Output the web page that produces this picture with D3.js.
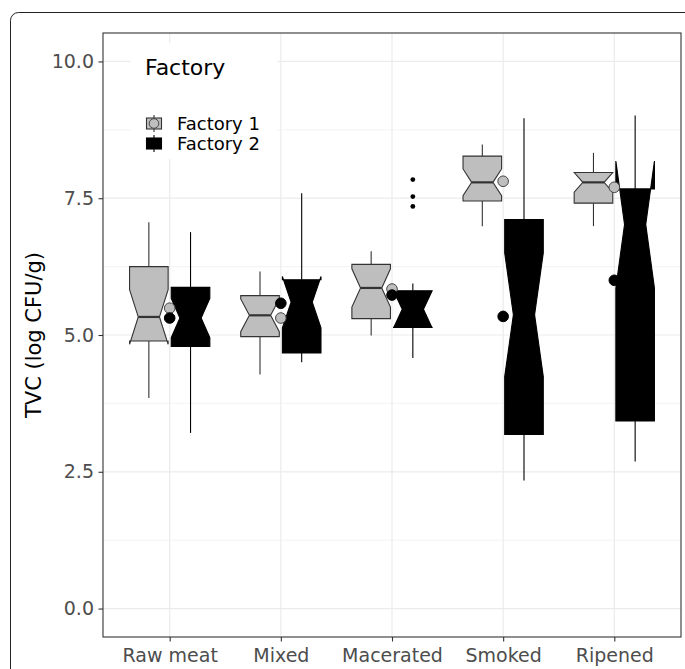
<!DOCTYPE html>
<html>
<head>
<meta charset="utf-8">
<script src="https://cdn.jsdelivr.net/npm/d3@7"></script>
<style>
  body { margin: 0; background: #fff; }
  svg { display: block; font-family: "DejaVu Sans", sans-serif; }
</style>
</head>
<body>
<div id="chart"></div>
<script>
// >-----------------< Data >-------------------<
const stages = ["Raw meat", "Mixed", "Macerated", "Smoked", "Ripened"];
const factories = ["Factory 1", "Factory 2"];
const yTicks = [0, 2.5, 5, 7.5, 10];
const yMinorTicks = [1.25, 3.75, 6.25, 8.75];

// Factory 1 box stats per stage
const f1WhiskerLow  = [3.85, 4.28, 4.99, 6.99, 6.99];
const f1Q1          = [4.89, 4.97, 5.30, 7.45, 7.41];
const f1Median      = [5.33, 5.36, 5.86, 7.79, 7.79];
const f1Q3          = [6.25, 5.72, 6.29, 8.27, 7.97];
const f1WhiskerHigh = [7.06, 6.16, 6.53, 8.48, 8.33];
const f1NotchHalf   = [0.50, 0.30, 0.35, 0.245, 0.18];
const f1Mean        = [5.49, 5.31, 5.84, 7.81, 7.70];
const f1Outliers    = [[], [], [], [], []];

// Factory 2 box stats per stage
const f2WhiskerLow  = [3.21, 4.50, 4.58, 2.34, 2.69];
const f2Q1          = [4.79, 4.67, 5.14, 3.18, 3.43];
const f2Median      = [5.31, 5.60, 5.47, 5.37, 7.02];
const f2Q3          = [5.87, 6.01, 5.81, 7.11, 7.67];
const f2WhiskerHigh = [6.88, 7.59, 5.94, 8.96, 9.01];
const f2NotchHalf   = [0.36, 0.47, 0.34, 1.13, 1.16];
const f2Mean        = [5.31, 5.58, 5.73, 5.34, 6.00];
const f2Outliers    = [[], [], [7.84, 7.53, 7.35], [], []];

// >-----------------< Config >-------------------<
const config = {
  width: 685,
  height: 669,
  panel: { left: 103, right: 681, top: 33, bottom: 637 },
  fill: { "Factory 1": "#bebebe", "Factory 2": "#000000" },
  line: { "Factory 1": "#333333", "Factory 2": "#000000" },
  pointStroke: { "Factory 1": "#444444", "Factory 2": "#000000" }
};

function buildBoxes() {
  const rows = [];
  stages.forEach((stage, i) => {
    rows.push({ stage, factory: "Factory 1", side: -1,
      lo: f1WhiskerLow[i], q1: f1Q1[i], med: f1Median[i], q3: f1Q3[i], hi: f1WhiskerHigh[i],
      notch: f1NotchHalf[i], mean: f1Mean[i], outliers: f1Outliers[i] });
    rows.push({ stage, factory: "Factory 2", side: 1,
      lo: f2WhiskerLow[i], q1: f2Q1[i], med: f2Median[i], q3: f2Q3[i], hi: f2WhiskerHigh[i],
      notch: f2NotchHalf[i], mean: f2Mean[i], outliers: f2Outliers[i] });
  });
  return rows;
}

// >-----------------< Chart >-------------------<
function drawChart() {
  const { width, height, panel } = config;
  const boxes = buildBoxes();

  const svg = d3.select("#chart").append("svg")
    .attr("width", width)
    .attr("height", height);

  // outer rounded frame (runs off the right and bottom edges)
  svg.append("rect")
    .attr("x", 10.5).attr("y", 12.5)
    .attr("width", 700).attr("height", 670)
    .attr("rx", 8)
    .attr("fill", "none")
    .attr("stroke", "#222")
    .attr("stroke-width", 1);

  const x = d3.scalePoint()
    .domain(stages)
    .range([panel.left, panel.right])
    .padding(0.6);

  const y = d3.scaleLinear()
    .domain([-0.52, 10.52])
    .range([panel.bottom, panel.top]);

  const step = x.step();
  const boxW = 0.347 * step;
  const dodge = 0.1875 * step;
  const notchW = 0.55;

  // grid
  const grid = svg.append("g");
  grid.selectAll(".minor").data(yMinorTicks).enter().append("line")
    .attr("x1", panel.left).attr("x2", panel.right)
    .attr("y1", d => y(d)).attr("y2", d => y(d))
    .attr("stroke", "#ebebeb").attr("stroke-width", 0.6);
  grid.selectAll(".major").data(yTicks).enter().append("line")
    .attr("x1", panel.left).attr("x2", panel.right)
    .attr("y1", d => y(d)).attr("y2", d => y(d))
    .attr("stroke", "#ebebeb").attr("stroke-width", 1.2);
  grid.selectAll(".vmajor").data(stages).enter().append("line")
    .attr("x1", d => x(d)).attr("x2", d => x(d))
    .attr("y1", panel.top).attr("y2", panel.bottom)
    .attr("stroke", "#ebebeb").attr("stroke-width", 1.2);

  // boxes
  const g = svg.append("g");
  boxes.forEach(b => {
    const cx = x(b.stage) + b.side * dodge;
    g.append("line")
      .attr("x1", cx).attr("x2", cx)
      .attr("y1", y(b.q3)).attr("y2", y(b.hi))
      .attr("stroke", config.line[b.factory]).attr("stroke-width", 1.1);
    g.append("line")
      .attr("x1", cx).attr("x2", cx)
      .attr("y1", y(b.q1)).attr("y2", y(b.lo))
      .attr("stroke", config.line[b.factory]).attr("stroke-width", 1.1);

    // notched box polygon (ggplot style)
    const xmin = cx - boxW / 2, xmax = cx + boxW / 2;
    const nxmin = cx - boxW * notchW / 2, nxmax = cx + boxW * notchW / 2;
    const nu = b.med + b.notch, nl = b.med - b.notch;
    const pts = [
      [xmin, y(b.q3)], [xmin, y(nu)], [nxmin, y(b.med)], [xmin, y(nl)], [xmin, y(b.q1)],
      [xmax, y(b.q1)], [xmax, y(nl)], [nxmax, y(b.med)], [xmax, y(nu)], [xmax, y(b.q3)]
    ];
    g.append("path")
      .attr("d", d3.line()(pts) + "Z")
      .attr("fill", config.fill[b.factory])
      .attr("stroke", config.line[b.factory])
      .attr("stroke-width", 1.1)
      .attr("stroke-linejoin", "miter");
    g.append("line")
      .attr("x1", nxmin).attr("x2", nxmax)
      .attr("y1", y(b.med)).attr("y2", y(b.med))
      .attr("stroke", config.line[b.factory]).attr("stroke-width", 2.2);

    g.selectAll(null).data(b.outliers).enter().append("circle")
      .attr("cx", cx).attr("cy", d => y(d))
      .attr("r", 2.4)
      .attr("fill", config.line[b.factory]);
  });

  // mean points (drawn at the stage centre)
  factories.forEach(f => {
    svg.append("g").selectAll("circle")
      .data(boxes.filter(b => b.factory === f))
      .enter().append("circle")
      .attr("cx", d => x(d.stage))
      .attr("cy", d => y(d.mean))
      .attr("r", 5.3)
      .attr("fill", config.fill[f])
      .attr("stroke", config.pointStroke[f])
      .attr("stroke-width", 1);
  });

  // panel border
  svg.append("rect")
    .attr("x", panel.left).attr("y", panel.top)
    .attr("width", panel.right - panel.left)
    .attr("height", panel.bottom - panel.top)
    .attr("fill", "none")
    .attr("stroke", "#333")
    .attr("stroke-width", 1.1);

  // axes
  const yAxis = svg.append("g")
    .attr("transform", `translate(${panel.left},0)`)
    .call(d3.axisLeft(y).tickValues(yTicks).tickFormat(d3.format(".1f")).tickSize(4.5).tickPadding(4.5));
  const xAxis = svg.append("g")
    .attr("transform", `translate(0,${panel.bottom})`)
    .call(d3.axisBottom(x).tickSize(4.5).tickPadding(3));
  [yAxis, xAxis].forEach(a => {
    a.select(".domain").remove();
    a.selectAll(".tick line").attr("stroke", "#333").attr("stroke-width", 1.1);
    a.selectAll(".tick text")
      .attr("fill", "#4d4d4d")
      .style("font-size", "19px")
      .style("font-family", "DejaVu Sans, sans-serif");
  });
  xAxis.selectAll(".tick text").attr("dy", "0.92em");

  // y title
  svg.append("text")
    .attr("transform", `translate(41,${(panel.top + panel.bottom) / 2}) rotate(-90)`)
    .attr("text-anchor", "middle")
    .style("font-size", "21px")
    .attr("fill", "#000")
    .text("TVC (log CFU/g)");

  // legend
  const legend = svg.append("g");
  legend.append("rect")
    .attr("x", 131).attr("y", 43)
    .attr("width", 146).attr("height", 116)
    .attr("fill", "#fff");
  legend.append("text")
    .attr("x", 145).attr("y", 75)
    .style("font-size", "22px")
    .attr("fill", "#000")
    .text("Factory");

  const rowY = [123.5, 143.5];
  factories.forEach((f, i) => {
    const ky = rowY[i];
    const kx = 154;
    legend.append("line")
      .attr("x1", kx).attr("x2", kx)
      .attr("y1", ky - 8.5).attr("y2", ky + 8.5)
      .attr("stroke", config.line[f]).attr("stroke-width", 1.1);
    legend.append("rect")
      .attr("x", kx - 7.5).attr("y", ky - 5.5)
      .attr("width", 15).attr("height", 11)
      .attr("fill", config.fill[f])
      .attr("stroke", config.line[f]).attr("stroke-width", 1.1);
    legend.append("circle")
      .attr("cx", kx).attr("cy", ky)
      .attr("r", 4.8)
      .attr("fill", config.fill[f])
      .attr("stroke", config.pointStroke[f]).attr("stroke-width", 1);
    legend.append("text")
      .attr("x", 177).attr("y", ky + 6.5)
      .style("font-size", "18px")
      .attr("fill", "#000")
      .text(f);
  });
}

document.addEventListener("DOMContentLoaded", drawChart);
</script>
</body>
</html>
